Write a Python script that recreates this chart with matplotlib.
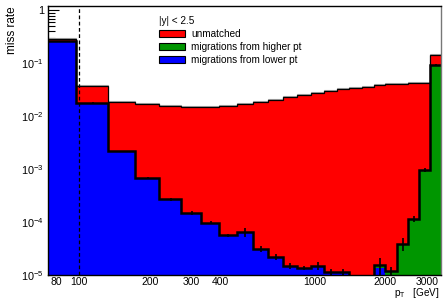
import numpy as np
import matplotlib
matplotlib.use("Agg")
import matplotlib.pyplot as plt
from matplotlib.patches import Patch
from matplotlib.ticker import FixedLocator, NullLocator, LogLocator

plt.rcParams['font.family'] = ['Liberation Sans', 'DejaVu Sans']
plt.rcParams['mathtext.fontset'] = 'custom'
plt.rcParams['mathtext.rm'] = 'Liberation Sans'
plt.rcParams['mathtext.it'] = 'Liberation Sans:italic'

# pt bin edges [GeV]
edges = [74, 97, 133, 174, 220, 272, 330, 395, 468, 548, 638, 737, 846, 967,
         1101, 1248, 1410, 1588, 1784, 2000, 2238, 2500, 2787, 3103, 3450]

# stacked components of the miss rate
lower = [0.265, 0.0181, 0.00221, 6.8e-4, 2.7e-4, 1.49e-4, 9.75e-5, 5.7e-5,
         6.4e-5, 3.1e-5, 2.2e-5, 1.48e-5, 1.37e-5, 1.5e-5, 1.15e-5, 1.15e-5,
         0, 0, 1.34e-5, 0, 0, 0, 0, 0]
higher = [0, 0, 0, 0, 0, 0, 0, 0, 0, 0, 0, 0, 0, 0, 0, 0,
          0, 0, 2e-6, 1.19e-5, 3.86e-5, 1.15e-4, 9.7e-4, 0.0933]
unmatched = [0.024, 0.0188, 0.0167, 0.0162, 0.0156, 0.0149, 0.0149, 0.0158,
             0.0170, 0.0184, 0.0201, 0.0232, 0.0253, 0.0279, 0.0305, 0.0324,
             0.0343, 0.0363, 0.0385, 0.0403, 0.0413, 0.0431, 0.0422, 0.051]
# errors on the migration sum
mig_err = [0.002, 0.0002, 3e-5, 2e-5, 1.8e-5, 1.0e-5, 6.5e-6, 3.8e-6,
           1.2e-5, 4.3e-6, 3.1e-6, 1.7e-6, 1.2e-6, 2.7e-6, 1.6e-6, 1.6e-6,
           0, 0, 5.5e-6, 2e-6, 1.05e-5, 1.3e-5, 8.5e-5, 0.002]

xticks = [80, 100, 200, 300, 400, 1000, 2000, 3000]

edges = np.array(edges, dtype=float)
lower = np.array(lower)
higher = np.array(higher)
unmatched = np.array(unmatched)
mig_err = np.array(mig_err)

floor = 1e-9
c1 = np.where(lower > 0, lower, floor)
mig = lower + higher
c2 = np.where(mig > 0, mig, floor)
c3 = mig + unmatched

fig = plt.figure(figsize=(4.43, 2.99), dpi=100)
ax = fig.add_axes([48 / 443, 24 / 299, 393 / 443, 269.5 / 299])

ax.set_xscale('log')
ax.set_yscale('log')
ax.set_xlim(74, 3450)
ax.set_ylim(1e-5, 1.24)

ax.stairs(c1, edges, baseline=floor, fill=True, color='#0000ff', zorder=3)
ax.stairs(c2, edges, baseline=c1, fill=True, color='#009600', zorder=3)
ax.stairs(c3, edges, baseline=c2, fill=True, color='#ff0000', zorder=3)

# outlines
ax.stairs(c3 * 1.04, edges, baseline=None, color='#aaaaaa', lw=0.8, zorder=3.5)
ax.stairs(c3, edges, baseline=None, color='black', lw=0.9, zorder=4)
ax.stairs(c2, edges, baseline=None, color='black', lw=1.8, zorder=4)

centers = 0.5 * (edges[:-1] + edges[1:])
sel = mig_err > 0
ax.errorbar(centers[sel], c2[sel], yerr=mig_err[sel], fmt='none',
            ecolor='black', elinewidth=1.2, capsize=0, zorder=4)

ax.axvline(100, color='black', lw=0.9, ls=(0, (3, 2)), zorder=5)

for s in ax.spines.values():
    s.set_zorder(6)
    s.set_linewidth(1.0)
ax.spines['right'].set_color('#777777')

ax.xaxis.set_major_locator(FixedLocator(xticks))
ax.xaxis.set_minor_locator(NullLocator())
ax.set_xticklabels([str(t) for t in xticks])

yt = [1e-5, 1e-4, 1e-3, 1e-2, 1e-1, 1]
ax.yaxis.set_major_locator(FixedLocator(yt))
ax.set_yticklabels([r'$\mathregular{10^{-5}}$', r'$\mathregular{10^{-4}}$',
                    r'$\mathregular{10^{-3}}$', r'$\mathregular{10^{-2}}$',
                    r'$\mathregular{10^{-1}}$', '1'])
ax.yaxis.set_minor_locator(LogLocator(base=10, subs=np.arange(2, 10), numticks=20))
ax.yaxis.set_minor_formatter(plt.NullFormatter())

ax.tick_params(axis='both', which='major', direction='in', labelsize=7.8,
               length=8, width=0.8, pad=3)
ax.tick_params(axis='both', which='minor', direction='in', length=5, width=0.8)
ax.tick_params(axis='x', pad=1.5, labelsize=7.5)
ax.tick_params(right=False, top=False)

fig.text(12 / 443, 1 - 6 / 299, 'miss rate', rotation=90, ha='center', va='top',
         fontsize=8.5)
fig.text(440 / 443, 1 - 293 / 299, r'p$_{\mathregular{T}}$   [GeV]', ha='right',
         va='center', fontsize=7.2)

handles = [Patch(facecolor='#ff0000', edgecolor='black', lw=0.8),
           Patch(facecolor='#009600', edgecolor='black', lw=0.8),
           Patch(facecolor='#0000ff', edgecolor='black', lw=0.8)]
labels = ['unmatched', 'migrations from higher pt', 'migrations from lower pt']
leg = ax.legend(handles, labels, title='|y| < 2.5', alignment='left',
                loc='upper left', bbox_to_anchor=(159 / 443, 1 - 16 / 299),
                bbox_transform=fig.transFigure, frameon=False, fontsize=7.2,
                title_fontsize=7.2, borderpad=0, borderaxespad=0,
                handlelength=2.6, handleheight=0.72, handletextpad=0.6,
                labelspacing=0.3)
leg.set_zorder(7)

fig.savefig('out.png', dpi=100)
